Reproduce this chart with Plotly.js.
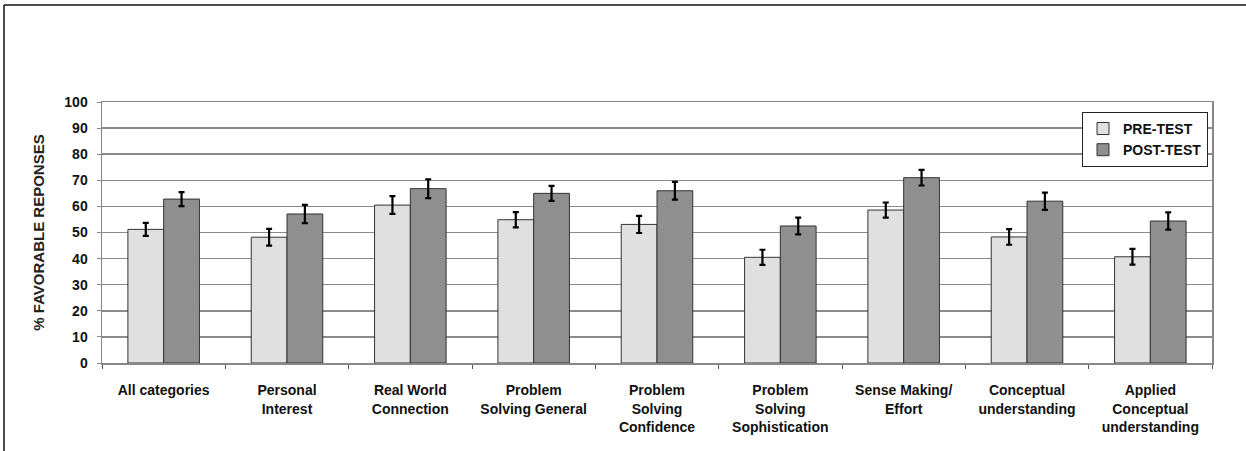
<!DOCTYPE html>
<html>
<head>
<meta charset="utf-8">
<script src="https://cdn.plot.ly/plotly-3.0.1.min.js"></script>
<style>
  html, body { margin: 0; padding: 0; background: #fff; }
  #chart { width: 1246px; height: 451px; }
</style>
</head>
<body>
<div id="chart"></div>
<script>
const categories = [
  "All categories",
  "Personal<br>Interest",
  "Real World<br>Connection",
  "Problem<br>Solving General",
  "Problem<br>Solving<br>Confidence",
  "Problem<br>Solving<br>Sophistication",
  "Sense Making/<br>Effort",
  "Conceptual<br>understanding",
  "Applied<br>Conceptual<br>understanding"
];
const preValues  = [51.2, 48.2, 60.5, 54.9, 53.1, 40.5, 58.6, 48.3, 40.7];
const preErrors  = [2.5, 3.2, 3.4, 2.9, 3.3, 2.9, 2.9, 3.0, 3.0];
const postValues = [62.8, 57.1, 66.8, 65.0, 66.0, 52.5, 71.0, 62.0, 54.4];
const postErrors = [2.7, 3.5, 3.6, 2.9, 3.4, 3.2, 3.0, 3.3, 3.3];
const yTicks = [0, 10, 20, 30, 40, 50, 60, 70, 80, 90, 100];

const FONT = "Liberation Sans, Arial, Helvetica, sans-serif";

const errStyle = { type: 'data', visible: true, color: '#000', thickness: 2.2, width: 3 };

const traces = [
  {
    type: 'bar', name: 'PRE-TEST', x: categories, y: preValues,
    error_y: Object.assign({ array: preErrors }, errStyle),
    marker: { color: '#e0e0e0', line: { color: '#333', width: 1 } }
  },
  {
    type: 'bar', name: 'POST-TEST', x: categories, y: postValues,
    error_y: Object.assign({ array: postErrors }, errStyle),
    marker: { color: '#8f8f8f', line: { color: '#333', width: 1 } }
  }
];

const layout = {
  width: 1246, height: 451,
  margin: { l: 102, r: 34, t: 102, b: 88, pad: 0 },
  paper_bgcolor: '#fff', plot_bgcolor: '#fff',
  barmode: 'group', bargap: 0.42, bargroupgap: 0,
  font: { family: FONT, color: '#111', size: 13, weight: 'bold' },
  showlegend: true,
  legend: {
    x: 0.9964, xanchor: 'right', y: 0.962, yanchor: 'top',
    bgcolor: '#fff', bordercolor: '#222', borderwidth: 1,
    font: { family: FONT, size: 14, color: '#111', weight: 'bold' },
    tracegroupgap: 0
  },
  xaxis: {
    type: 'category', tickson: 'boundaries', ticks: 'outside', ticklen: 4, tickcolor: '#555',
    showline: true, linecolor: '#888', linewidth: 1.5, mirror: true,
    showgrid: false, zeroline: false,
    tickfont: { family: FONT, size: 14, color: '#111', weight: 'bold' },
    ticklabelstandoff: 14,
    tickangle: 0, automargin: false, fixedrange: true
  },
  yaxis: {
    range: [0, 100], tickvals: yTicks, ticktext: yTicks.map(String),
    ticks: 'outside', ticklen: 4, tickcolor: '#888',
    showline: true, linecolor: '#888', linewidth: 1.5, mirror: true,
    showgrid: true, gridcolor: '#8a8a8a', gridwidth: 1.5, zeroline: false,
    tickfont: { family: FONT, size: 14, color: '#111', weight: 'bold' },
    ticklabelstandoff: 6,
    title: { text: '% FAVORABLE REPONSES', font: { family: FONT, size: 15, color: '#222', weight: 'bold' }, standoff: 16 },
    automargin: false, fixedrange: true
  },
  shapes: [
    { type: 'line', xref: 'paper', yref: 'paper', x0: -0.0883, x1: 1.05, y0: 1.3716, y1: 1.3716, line: { color: '#111', width: 1.5 } },
    { type: 'line', xref: 'paper', yref: 'paper', x0: -0.0883, x1: -0.0883, y0: 1.3716, y1: -0.4, line: { color: '#111', width: 1.5 } }
  ]
};

Plotly.newPlot('chart', traces, layout, { displayModeBar: false, staticPlot: true });
</script>
</body>
</html>
